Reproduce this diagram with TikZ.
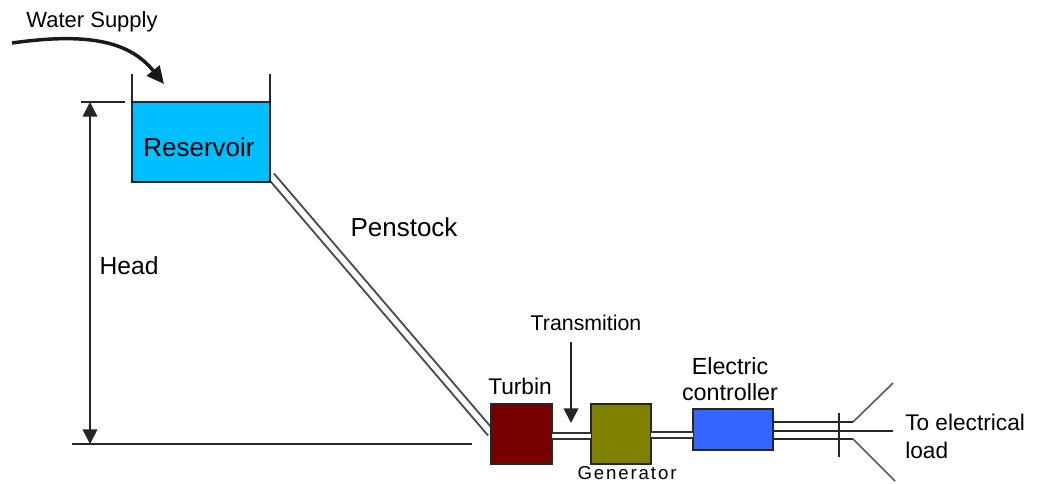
\documentclass[tikz,border=0pt]{standalone}
\usepackage{fontspec}
\setmainfont{Liberation Sans}
\usetikzlibrary{arrows.meta}
\tikzset{
  box/.style={draw=black!85,line width=1.6pt,inner sep=0pt,outer sep=0pt,anchor=north west},
  lbl/.style={inner sep=0pt,text=black,align=left},
  line/.style={draw=black!85,line width=1.4pt},
  thin pipe/.style={draw=black!70,line width=1.5pt,double=white,double distance=4.2pt},
  shaft/.style={draw=black!80,line width=1.5pt,double=white,double distance=3pt},
  tip/.style={-{Triangle[length=11pt,width=11pt]}},
  dim/.style={{Triangle[length=11pt,width=11pt]}-{Triangle[length=11pt,width=11pt]}}
}
\begin{document}
\begin{tikzpicture}[x=0.75pt,y=-0.75pt]
\useasboundingbox (0,0) rectangle (1037,483);
\clip (0,0) rectangle (1037,483);
\fill[white] (0,0) rectangle (1037,483);
% penstock
\coordinate (p0) at (271,176);
\coordinate (p1) at (491,433);
\draw[thin pipe] (p0) -- (p1);
% boxes
\node[box,fill={rgb,255:red,0;green,191;blue,255},minimum width=103.5pt,minimum height=60pt] (res) at (132,102) {};
\node[box,fill={rgb,255:red,122;green,0;blue,0},minimum width=45.5pt,minimum height=45pt] (tur) at (491,404) {};
\node[box,fill={rgb,255:red,128;green,128;blue,0},minimum width=45pt,minimum height=45pt] (gen) at (591,404) {};
\node[box,fill={rgb,255:red,51;green,102;blue,255},minimum width=60pt,minimum height=31pt] (ctl) at (693,409) {};
% reservoir walls
\coordinate (wl) at (132,74);
\coordinate (wr) at (270,74);
\draw[line] (res.north west) -- (wl);
\draw[line] (res.north east) -- (wr);
% inflow
\coordinate (in0) at (12,43);
\coordinate (in1) at (164,84);
\draw[line width=2.6pt,draw=black!90,-{Triangle[length=13pt,width=12pt]}] (in0) .. controls (90,32) and (130,42) .. (in1);
% head
\coordinate (ht0) at (81,102);
\coordinate (ht1) at (125,102);
\coordinate (hb0) at (72,444);
\coordinate (hb1) at (472,444);
\coordinate (ha0) at (90,102);
\coordinate (ha1) at (90,444);
\draw[line] (ht0) -- (ht1);
\draw[line] (hb0) -- (hb1);
\draw[line,dim] (ha0) -- (ha1);
% shafts
\coordinate (s0) at (552,436);
\coordinate (s1) at (591,436);
\coordinate (s2) at (651,434.5);
\coordinate (s3) at (693,434.5);
\draw[shaft] (s0) -- (s1);
\draw[shaft] (s2) -- (s3);
% transmission arrow
\coordinate (ta0) at (571,342);
\coordinate (ta1) at (571,423);
\draw[line,tip] (ta0) -- (ta1);
% output wires
\coordinate (a0) at (773,422);
\coordinate (a1) at (853,422);
\coordinate (a2) at (893,383);
\coordinate (b0) at (773,431);
\coordinate (b1) at (893,431);
\coordinate (c0) at (773,439);
\coordinate (c1) at (853,439);
\coordinate (c2) at (895,481);
\coordinate (t0) at (839,413);
\coordinate (t1) at (839,457);
\draw[line] (a0) -- (a1);
\draw[line,draw=black!65,line width=1.2pt] (a1) -- (a2);
\draw[line] (b0) -- (b1);
\draw[line] (c0) -- (c1);
\draw[line,draw=black!65,line width=1.2pt] (c1) -- (c2);
\draw[line] (t0) -- (t1);
% labels
\node[lbl,font=\fontsize{16.5pt}{18pt}\selectfont] (tws) at (92,22) {Water Supply};
\node[lbl,font=\fontsize{19.5pt}{22pt}\selectfont] (tres) at (199,147) {Reservoir};
\node[lbl,font=\fontsize{18.5pt}{21pt}\selectfont] (thead) at (129,266) {Head};
\node[lbl,font=\fontsize{19.5pt}{22pt}\selectfont] (tpen) at (404,227) {Penstock};
\node[lbl,font=\fontsize{16pt}{18pt}\selectfont] (ttra) at (586,323) {Transmition};
\node[lbl,font=\fontsize{17pt}{19pt}\selectfont] (ttur) at (520,386) {Turbin};
\node[lbl,font=\fontsize{14pt}{16pt}\selectfont\addfontfeature{LetterSpace=10}] (tgen) at (627,473) {Generator};
\node[lbl,font=\fontsize{17.5pt}{20pt}\selectfont,align=center] (tctl) at (730,379) {Electric\\controller};
\node[lbl,font=\fontsize{17pt}{21pt}\selectfont,anchor=west] (tload) at (905,436) {To electrical\\load};
\end{tikzpicture}
\end{document}
